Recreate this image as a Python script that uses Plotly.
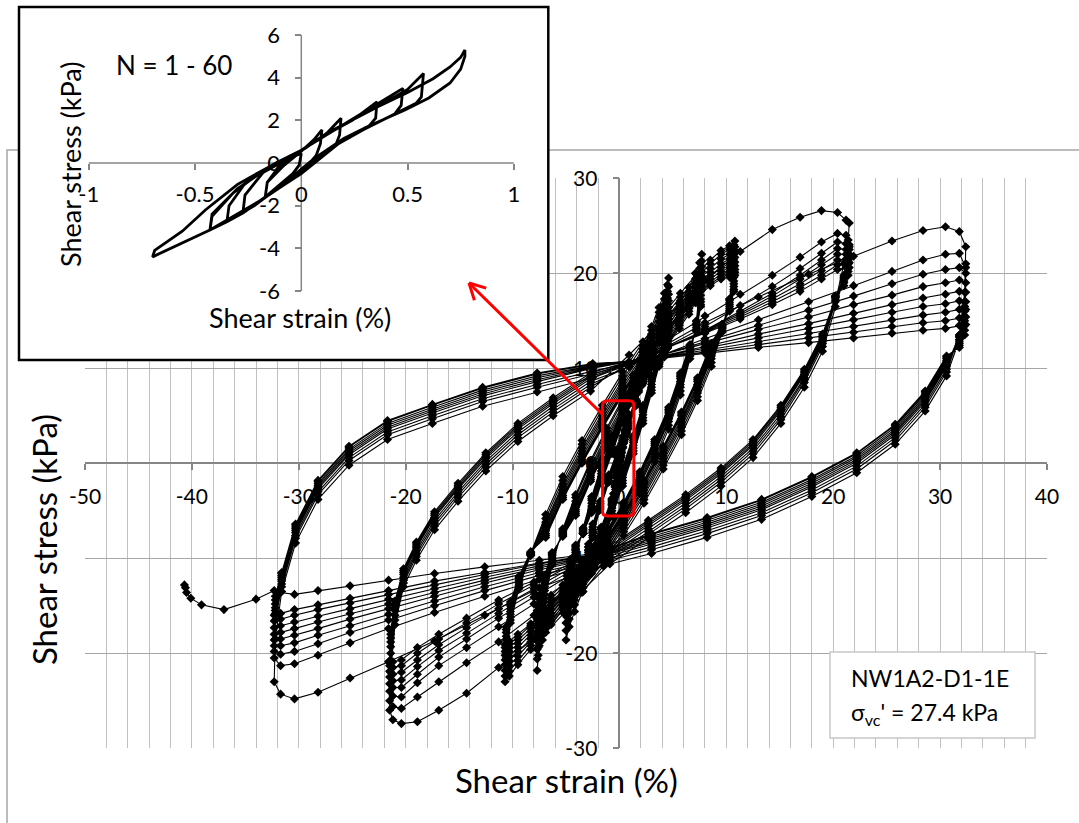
import plotly.graph_objects as go

W, H = 1079, 823

# ------------------------------------------------------------------
# Cyclic simple shear record, NW1A2-D1-1E.
# Each amplitude stage repeats the same strain path (%); the shear
# stress (kPa) of every cycle in the stage is listed separately.
# ------------------------------------------------------------------

# stage 0, about -3 % / +2.6 %
s0_strain = [2.6, 2.5, 2.2, 1.6, 0.8, -0.1, -1.0, -1.8, -2.5, -2.9, -3.0,
             -2.9, -2.5, -1.9, -1.1, -0.2, 0.7, 1.5, 2.1, 2.5]
s0_stress = [
    [12.5, 10.8, 8.8, 6.2, 3.6, 0.8, -2.0, -4.8, -7.6, -10.0, -12.0, -10.2, -7.8, -5.0, -2.0, 1.0, 4.0, 6.8, 9.3, 11.3],
    [12.0, 10.5, 8.7, 6.3, 3.8, 1.0, -1.8, -4.6, -7.3, -9.6, -11.5, -9.8, -7.6, -4.9, -2.0, 0.9, 3.8, 6.6, 9.0, 10.9],
    [11.6, 10.2, 8.6, 6.4, 4.0, 1.2, -1.6, -4.4, -7.0, -9.2, -11.0, -9.4, -7.4, -4.8, -2.0, 0.8, 3.6, 6.4, 8.7, 10.5],
    [11.2, 9.9, 8.5, 6.5, 4.2, 1.4, -1.4, -4.2, -6.7, -8.8, -10.6, -9.1, -7.2, -4.7, -2.0, 0.7, 3.4, 6.2, 8.4, 10.2],
    [10.9, 9.7, 8.4, 6.6, 4.4, 1.6, -1.2, -4.0, -6.4, -8.5, -10.2, -8.8, -7.0, -4.6, -2.0, 0.6, 3.2, 6.0, 8.2, 9.9],
]

# stage A, about -5 % / +4.6 %
a_strain = [4.6, 4.5, 4.2, 3.7, 3.0, 2.2, 1.3, 0.3, -0.7, -1.7, -2.6, -3.5, -4.2, -4.7, -5.0,
            -4.9, -4.6, -4.1, -3.4, -2.6, -1.7, -0.7, 0.3, 1.3, 2.2, 3.0, 3.7, 4.2, 4.5]
a_stress = [
    [19.5, 16.8, 13.2, 10.2, 7.4, 4.2, 1.0, -2.4, -5.6, -8.6, -11.2, -13.6, -15.6, -17.2, -18.6,
     -16.2, -13.2, -10.0, -6.8, -3.5, -0.3, 2.9, 6.2, 9.3, 12.0, 14.4, 16.4, 17.9, 18.8],
    [18.6, 16.1, 12.9, 10.4, 7.7, 4.5, 1.3, -2.1, -5.3, -8.3, -10.8, -13.0, -14.9, -16.4, -17.6,
     -15.4, -12.7, -9.8, -6.9, -3.7, -0.5, 2.6, 5.9, 9.0, 11.7, 14.0, 15.9, 17.3, 18.1],
    [17.8, 15.5, 12.6, 10.5, 8.0, 4.8, 1.6, -1.8, -5.0, -8.0, -10.5, -12.6, -14.4, -15.8, -16.8,
     -14.8, -12.3, -9.6, -7.0, -3.9, -0.8, 2.3, 5.6, 8.7, 11.4, 13.6, 15.4, 16.7, 17.4],
    [17.1, 15.0, 12.4, 10.6, 8.3, 5.1, 1.9, -1.5, -4.7, -7.7, -10.2, -12.2, -13.9, -15.1, -16.0,
     -14.2, -11.9, -9.4, -7.1, -4.2, -1.1, 2.0, 5.3, 8.4, 11.1, 13.2, 14.9, 16.1, 16.8],
    [16.4, 14.5, 12.2, 10.7, 8.6, 5.4, 2.2, -1.2, -4.4, -7.4, -9.9, -11.8, -13.4, -14.5, -15.3,
     -13.6, -11.5, -9.2, -7.2, -4.5, -1.4, 1.7, 5.0, 8.1, 10.8, 12.8, 14.4, 15.5, 16.1],
    [15.8, 14.1, 12.0, 10.8, 8.8, 5.6, 2.4, -1.0, -4.2, -7.2, -9.6, -11.5, -13.0, -14.0, -14.7,
     -13.1, -11.2, -9.1, -7.3, -4.7, -1.6, 1.5, 4.8, 7.9, 10.5, 12.5, 14.0, 15.0, 15.5],
    [15.2, 13.7, 11.8, 10.8, 9.0, 5.8, 2.6, -0.8, -4.0, -7.0, -9.4, -11.2, -12.6, -13.5, -14.1,
     -12.6, -10.8, -9.0, -7.4, -4.9, -1.8, 1.3, 4.6, 7.7, 10.3, 12.2, 13.6, 14.5, 14.9],
    [14.7, 13.3, 11.6, 10.8, 9.1, 5.9, 2.7, -0.7, -3.9, -6.9, -9.2, -10.9, -12.2, -13.0, -13.6,
     -12.2, -10.5, -8.8, -7.4, -5.0, -1.9, 1.2, 4.5, 7.6, 10.1, 11.9, 13.2, 14.1, 14.5],
    [14.3, 13.0, 11.4, 10.7, 9.2, 6.0, 2.8, -0.6, -3.8, -6.8, -9.0, -10.6, -11.8, -12.6, -13.2,
     -11.9, -10.3, -8.7, -7.4, -5.1, -2.0, 1.1, 4.4, 7.5, 9.9, 11.7, 12.9, 13.7, 14.1],
    [14.0, 12.8, 11.2, 10.6, 9.3, 6.1, 2.9, -0.5, -3.7, -6.7, -8.8, -10.4, -11.5, -12.3, -12.9,
     -11.6, -10.1, -8.6, -7.4, -5.2, -2.1, 1.0, 4.3, 7.4, 9.8, 11.5, 12.7, 13.4, 13.8],
]

# stage P, about +/-7.7 %
p_strain = [7.7, 7.6, 7.2, 6.6, 5.7, 4.6, 3.3, 1.9, 0.4, -1.1, -2.6, -4.0, -5.3, -6.4, -7.2, -7.6, -7.7,
            -7.5, -7.0, -6.3, -5.3, -4.1, -2.7, -1.2, 0.3, 1.8, 3.2, 4.5, 5.6, 6.5, 7.1, 7.5]
p_stress = [
    [22.0, 19.6, 15.0, 11.0, 7.2, 3.6, 0.2, -3.2, -6.4, -9.2, -11.6, -13.6, -15.4, -17.0, -18.6, -20.2, -21.8,
     -19.2, -14.6, -10.7, -6.9, -3.3, 0.3, 3.7, 6.8, 9.7, 12.4, 14.7, 16.8, 18.5, 20.0, 21.1],
    [21.3, 19.0, 14.9, 11.3, 7.6, 4.0, 0.6, -2.8, -6.0, -8.8, -11.2, -13.2, -15.0, -16.6, -18.0, -19.4, -20.6,
     -18.2, -14.2, -10.5, -7.0, -3.6, 0.0, 3.4, 6.5, 9.4, 12.0, 14.3, 16.3, 18.0, 19.4, 20.5],
    [20.7, 18.5, 14.7, 11.6, 8.0, 4.4, 1.0, -2.4, -5.6, -8.4, -10.8, -12.8, -14.6, -16.2, -17.4, -18.6, -19.6,
     -17.4, -13.8, -10.3, -7.1, -4.0, -0.4, 3.0, 6.1, 9.0, 11.6, 13.9, 15.9, 17.6, 18.9, 20.0],
    [20.2, 18.1, 14.6, 11.8, 8.3, 4.7, 1.3, -2.1, -5.3, -8.1, -10.5, -12.5, -14.3, -15.8, -16.9, -17.9, -18.7,
     -16.6, -13.4, -10.1, -7.2, -4.3, -0.7, 2.7, 5.8, 8.7, 11.3, 13.6, 15.6, 17.2, 18.5, 19.5],
    [19.7, 17.7, 14.5, 12.0, 8.6, 5.0, 1.6, -1.8, -5.0, -7.8, -10.2, -12.2, -14.0, -15.4, -16.4, -17.2, -17.8,
     -15.9, -13.0, -9.9, -7.3, -4.6, -1.0, 2.4, 5.5, 8.4, 11.0, 13.3, 15.3, 16.9, 18.1, 19.1],
    [19.3, 17.3, 14.3, 12.2, 8.9, 5.3, 1.9, -1.5, -4.7, -7.5, -9.9, -11.9, -13.7, -15.0, -15.9, -16.5, -17.0,
     -15.2, -12.6, -9.7, -7.4, -4.9, -1.3, 2.1, 5.2, 8.1, 10.7, 13.0, 15.0, 16.6, 17.8, 18.7],
    [18.9, 17.0, 14.1, 12.3, 9.1, 5.5, 2.1, -1.3, -4.5, -7.3, -9.7, -11.7, -13.4, -14.6, -15.4, -16.0, -16.4,
     -14.7, -12.3, -9.6, -7.5, -5.1, -1.5, 1.9, 5.0, 7.9, 10.5, 12.8, 14.7, 16.3, 17.5, 18.3],
    [18.6, 16.7, 14.0, 12.4, 9.3, 5.7, 2.3, -1.1, -4.3, -7.1, -9.5, -11.5, -13.1, -14.2, -15.0, -15.5, -15.9,
     -14.3, -12.0, -9.5, -7.6, -5.3, -1.7, 1.7, 4.8, 7.7, 10.3, 12.6, 14.5, 16.0, 17.2, 18.0],
    [18.3, 16.5, 13.9, 12.5, 9.5, 5.9, 2.5, -0.9, -4.1, -6.9, -9.3, -11.3, -12.8, -13.9, -14.6, -15.1, -15.5,
     -13.9, -11.8, -9.4, -7.7, -5.5, -1.9, 1.5, 4.6, 7.5, 10.1, 12.4, 14.2, 15.7, 16.9, 17.7],
]

# stage B, about +/-10.7 %
b_strain = [10.8, 10.7, 10.3, 9.6, 8.6, 7.3, 5.8, 4.1, 2.3, 0.4, -1.5, -3.4, -5.2, -6.9, -8.3, -9.5, -10.3, -10.7,
            -10.6, -10.2, -9.4, -8.3, -6.9, -5.3, -3.5, -1.6, 0.3, 2.2, 4.0, 5.7, 7.2, 8.5, 9.5, 10.3, 10.7]
b_stress = [
    [23.4, 20.8, 17.3, 13.8, 10.2, 6.6, 3.0, -0.6, -4.2, -7.6, -10.8, -13.5, -15.8, -17.8, -19.6, -21.2, -22.4, -23.0,
     -20.5, -16.8, -13.2, -9.5, -5.4, -1.4, 2.4, 6.1, 9.6, 12.8, 15.6, 17.9, 19.9, 21.4, 22.4, 22.9, 23.0],
    [22.8, 20.4, 17.3, 14.0, 10.6, 7.0, 3.4, -0.2, -3.8, -7.2, -10.4, -13.1, -15.4, -17.4, -19.2, -20.8, -21.9, -22.4,
     -20.0, -16.5, -13.1, -9.6, -5.8, -1.8, 2.0, 5.7, 9.2, 12.4, 15.2, 17.5, 19.5, 21.0, 22.0, 22.5, 22.5],
    [22.2, 20.0, 17.1, 14.2, 11.0, 7.4, 3.8, 0.2, -3.4, -6.8, -10.0, -12.7, -15.0, -17.0, -18.8, -20.3, -21.3, -21.8,
     -19.5, -16.2, -12.9, -9.7, -6.2, -2.2, 1.6, 5.3, 8.8, 12.0, 14.8, 17.1, 19.1, 20.5, 21.5, 22.0, 22.0],
    [21.7, 19.6, 16.9, 14.3, 11.3, 7.7, 4.1, 0.5, -3.1, -6.5, -9.7, -12.4, -14.7, -16.7, -18.5, -19.8, -20.8, -21.2,
     -19.0, -15.9, -12.7, -9.7, -6.5, -2.5, 1.3, 5.0, 8.5, 11.7, 14.5, 16.8, 18.7, 20.1, 21.0, 21.5, 21.5],
    [21.2, 19.2, 16.7, 14.4, 11.6, 8.0, 4.4, 0.8, -2.8, -6.2, -9.4, -12.1, -14.4, -16.4, -18.1, -19.4, -20.3, -20.7,
     -18.6, -15.6, -12.5, -9.6, -6.8, -2.8, 1.0, 4.7, 8.2, 11.4, 14.2, 16.5, 18.4, 19.7, 20.6, 21.0, 21.0],
    [20.8, 18.9, 16.5, 14.5, 11.9, 8.3, 4.7, 1.1, -2.5, -5.9, -9.1, -11.8, -14.1, -16.1, -17.7, -19.0, -19.8, -20.2,
     -18.2, -15.3, -12.3, -9.5, -7.1, -3.1, 0.7, 4.4, 7.9, 11.1, 13.9, 16.2, 18.1, 19.4, 20.2, 20.6, 20.6],
    [20.4, 18.6, 16.3, 14.6, 12.2, 8.6, 5.0, 1.4, -2.2, -5.6, -8.8, -11.5, -13.8, -15.8, -17.4, -18.6, -19.4, -19.8,
     -17.8, -15.0, -12.1, -9.4, -7.4, -3.4, 0.4, 4.1, 7.6, 10.8, 13.6, 15.9, 17.8, 19.1, 19.9, 20.2, 20.2],
    [20.1, 18.3, 16.1, 14.6, 12.4, 8.8, 5.2, 1.6, -2.0, -5.4, -8.6, -11.3, -13.6, -15.6, -17.1, -18.3, -19.0, -19.4,
     -17.5, -14.8, -12.0, -9.4, -7.6, -3.6, 0.2, 3.9, 7.4, 10.6, 13.4, 15.7, 17.6, 18.9, 19.6, 19.9, 19.9],
    [19.8, 18.1, 16.0, 14.6, 12.6, 9.0, 5.4, 1.8, -1.8, -5.2, -8.4, -11.1, -13.4, -15.4, -16.9, -18.0, -18.7, -19.1,
     -17.2, -14.6, -11.9, -9.3, -7.8, -3.8, 0.0, 3.7, 7.2, 10.4, 13.2, 15.5, 17.4, 18.7, 19.4, 19.6, 19.6],
]

# stage C, about +/-21.5 %
c_strain = [21.5, 21.4, 21.0, 20.2, 19.0, 17.3, 15.1, 12.5, 9.5, 6.2, 2.7, -0.9, -4.5, -8.0, -11.3, -14.3, -16.9,
            -18.9, -20.4, -21.2, -21.5, -21.4, -21.0, -20.2, -19.0, -17.3, -15.1, -12.5, -9.5, -6.2, -2.7, 0.9,
            4.5, 8.0, 11.3, 14.3, 16.9, 18.9, 20.4, 21.2]
c_stress = [
    [23.0, 21.5, 19.5, 16.5, 11.8, 8.0, 4.2, 0.6, -2.4, -5.2, -7.9, -10.6, -14.5, -18.4, -21.5, -24.2, -26.0,
     -27.2, -27.4, -27.0, -26.0, -22.0, -17.0, -13.0, -10.2, -7.0, -4.0, -0.8, 2.3, 5.0, 7.6, 11.4,
     15.5, 19.3, 22.3, 24.6, 25.9, 26.6, 26.4, 25.6],
    [25.3, 23.5, 21.0, 17.0, 12.3, 8.5, 4.6, 1.0, -2.0, -4.8, -7.5, -10.2, -13.0, -16.0, -18.8, -21.0, -23.0,
     -24.6, -25.8, -25.6, -25.0, -21.0, -16.5, -12.6, -9.8, -6.6, -3.6, -0.4, 2.7, 5.4, 8.0, 10.5,
     13.0, 15.5, 17.8, 19.8, 21.7, 23.3, 24.2, 24.0],
    [22.8, 21.5, 19.8, 17.2, 12.6, 8.8, 4.9, 1.3, -1.7, -4.5, -7.2, -9.9, -12.3, -14.8, -17.2, -19.4, -21.3,
     -23.1, -24.6, -24.5, -24.0, -20.0, -16.0, -12.3, -9.5, -6.3, -3.3, -0.1, 3.0, 5.7, 8.3, 10.2,
     12.3, 14.4, 16.6, 18.6, 20.5, 22.1, 23.3, 23.1],
    [22.5, 21.3, 19.6, 17.5, 12.8, 9.0, 5.2, 1.6, -1.4, -4.2, -6.9, -9.6, -11.7, -14.1, -16.3, -18.5, -20.4,
     -22.2, -23.6, -23.6, -23.2, -19.3, -15.5, -12.0, -9.2, -6.0, -3.0, 0.2, 3.3, 6.0, 8.6, 10.2,
     12.1, 14.0, 16.0, 17.9, 19.8, 21.4, 22.6, 22.5],
    [22.0, 21.0, 19.4, 17.6, 13.0, 9.3, 5.5, 1.9, -1.1, -3.9, -6.6, -9.3, -11.3, -13.6, -15.8, -17.9, -19.7,
     -21.4, -22.8, -22.9, -22.5, -18.8, -15.2, -11.7, -8.9, -5.7, -2.7, 0.5, 3.6, 6.3, 8.9, 10.4,
     12.2, 14.0, 15.8, 17.6, 19.4, 20.9, 22.0, 22.0],
    [21.6, 20.6, 19.2, 17.6, 13.2, 9.5, 5.7, 2.1, -0.9, -3.7, -6.4, -9.1, -11.0, -13.2, -15.3, -17.3, -19.1,
     -20.7, -22.0, -22.2, -21.9, -18.4, -15.0, -11.5, -8.7, -5.5, -2.5, 0.7, 3.8, 6.5, 9.1, 10.5,
     12.2, 13.9, 15.6, 17.3, 18.9, 20.3, 21.4, 21.5],
    [21.1, 20.2, 19.0, 17.5, 13.4, 9.7, 5.9, 2.3, -0.7, -3.5, -6.2, -8.9, -10.7, -12.8, -14.8, -16.8, -18.5,
     -20.0, -21.3, -21.5, -21.3, -18.0, -14.8, -11.3, -8.5, -5.3, -2.3, 0.9, 4.0, 6.7, 9.3, 10.6,
     12.2, 13.8, 15.4, 17.0, 18.5, 19.8, 20.9, 21.0],
    [20.6, 19.8, 18.7, 17.4, 13.6, 9.9, 6.1, 2.5, -0.5, -3.3, -6.0, -8.7, -10.5, -12.5, -14.4, -16.3, -18.0,
     -19.4, -20.7, -20.9, -20.8, -17.6, -14.5, -11.1, -8.3, -5.1, -2.1, 1.1, 4.2, 6.9, 9.5, 10.7,
     12.2, 13.7, 15.2, 16.7, 18.1, 19.4, 20.4, 20.6],
]

# stage D, about +/-32.4 %; the last entry is the final half cycle
d_strain = [32.4, 32.3, 31.8, 30.6, 28.6, 25.8, 22.2, 18.0, 13.3, 8.2, 3.0, -2.3, -7.5, -12.6, -17.3, -21.6,
            -25.2, -28.2, -30.4, -31.7, -32.3, -32.2, -31.6, -30.3, -28.2, -25.3, -21.7, -17.5, -12.8, -7.7,
            -2.5, 2.8, 8.0, 13.0, 17.7, 21.9, 25.5, 28.4, 30.5, 31.8]
d_stress = [
    [21.0, 17.0, 13.0, 9.2, 5.5, 2.0, -1.0, -3.5, -5.9, -7.8, -9.5, -11.0, -13.1, -16.0, -18.7, -20.9,
     -22.6, -24.1, -24.8, -24.3, -23.0, -18.5, -13.5, -8.4, -3.8, -0.2, 2.5, 4.2, 6.0, 7.5,
     9.0, 11.5, 14.8, 17.5, 19.9, 21.8, 23.4, 24.5, 24.9, 24.4],
    [22.8, 18.0, 13.5, 9.6, 5.9, 2.4, -0.6, -3.1, -5.5, -7.4, -9.1, -10.6, -12.2, -14.0, -15.7, -17.4,
     -18.9, -20.2, -21.1, -21.3, -20.5, -16.5, -13.0, -7.9, -3.3, 0.3, 3.0, 4.7, 6.5, 8.0,
     9.4, 10.9, 13.1, 15.1, 17.0, 18.7, 20.2, 21.4, 22.0, 22.1],
    [20.6, 17.0, 13.3, 9.9, 6.2, 2.7, -0.3, -2.8, -5.2, -7.1, -8.8, -10.4, -11.8, -13.4, -15.0, -16.5,
     -17.8, -19.0, -19.8, -20.1, -19.8, -16.0, -12.7, -7.6, -3.0, 0.6, 3.3, 5.0, 6.8, 8.3,
     9.7, 11.0, 12.8, 14.5, 16.1, 17.6, 18.9, 19.9, 20.4, 20.6],
    [20.0, 16.5, 13.5, 10.2, 6.5, 3.0, 0.0, -2.5, -4.9, -6.8, -8.5, -10.2, -11.5, -13.0, -14.5, -15.9,
     -17.1, -18.1, -18.9, -19.2, -19.2, -15.8, -12.4, -7.3, -2.7, 0.9, 3.6, 5.3, 7.1, 8.6,
     10.0, 11.1, 12.6, 14.1, 15.4, 16.7, 17.7, 18.6, 19.0, 19.3],
    [19.0, 16.0, 13.3, 10.4, 6.7, 3.2, 0.2, -2.3, -4.7, -6.6, -8.3, -10.0, -11.2, -12.6, -14.0, -15.3,
     -16.4, -17.4, -18.1, -18.5, -18.6, -15.5, -12.2, -7.1, -2.5, 1.1, 3.8, 5.5, 7.3, 8.8,
     10.1, 11.0, 12.3, 13.6, 14.7, 15.8, 16.7, 17.4, 17.8, 18.1],
    [18.0, 15.5, 13.0, 10.6, 6.9, 3.4, 0.4, -2.1, -4.5, -6.4, -8.1, -9.9, -11.0, -12.3, -13.6, -14.8,
     -15.8, -16.7, -17.4, -17.8, -18.0, -15.2, -12.0, -6.9, -2.3, 1.3, 4.0, 5.7, 7.5, 9.0,
     10.2, 11.0, 12.1, 13.2, 14.2, 15.1, 15.9, 16.5, 16.8, 17.1],
    [17.0, 15.0, 12.8, 10.8, 7.1, 3.6, 0.6, -1.9, -4.3, -6.2, -7.9, -9.8, -10.8, -12.0, -13.2, -14.3,
     -15.3, -16.1, -16.7, -17.1, -17.3, -14.8, -11.8, -6.7, -2.1, 1.5, 4.2, 5.9, 7.7, 9.2,
     10.3, 11.0, 11.9, 12.8, 13.7, 14.4, 15.1, 15.6, 15.9, 16.2],
    [16.2, 14.5, 12.6, 11.0, 7.3, 3.8, 0.8, -1.7, -4.1, -6.0, -7.7, -9.7, -10.6, -11.7, -12.8, -13.8,
     -14.7, -15.4, -16.0, -16.4, -16.6, -14.4, -11.6, -6.5, -1.9, 1.7, 4.4, 6.1, 7.9, 9.4,
     10.4, 11.0, 11.7, 12.5, 13.2, 13.8, 14.4, 14.8, 15.0, 15.3],
    [15.4, 14.0, 12.4, 11.2, 7.5, 4.0, 1.0, -1.5, -3.9, -5.8, -7.5, -9.6, -10.5, -11.5, -12.4, -13.4,
     -14.2, -14.9, -15.4, -15.8, -16.0, -14.0, -11.5, -6.4, -1.8, 1.8, 4.5, 6.2, 8.0, 9.5,
     10.5, 10.9, 11.6, 12.2, 12.7, 13.2, 13.7, 14.0, 14.2, 14.5],
    [14.6, 13.5, 12.2, 11.3, 7.6, 4.1, 1.1, -1.4, -3.8, -5.7, -7.4, -9.5, -10.2, -10.9, -11.6, -12.3,
     -12.9, -13.4, -13.8, -13.6, -13.4],
]

# final monotonic pull beyond the last reversal
tail_strain = [-34.0, -37.0, -39.1, -40.1, -40.5, -40.6, -40.7]
tail_stress = [-14.3, -15.4, -14.9, -14.2, -13.6, -13.1, -12.8]

# small-strain cycles, N = 1 - 60 (one loop per stage)
small_strain = [
    [-0.17, -0.16, -0.10, -0.04, 0.0, -0.01, -0.04, -0.10, -0.17],
    [-0.17, -0.16, -0.08, 0.0, 0.06, 0.097, 0.09, 0.07, 0.0, -0.08, -0.17],
    [-0.275, -0.265, -0.18, -0.08, 0.02, 0.12, 0.187, 0.18, 0.16, 0.08, -0.02, -0.14, -0.275],
    [-0.35, -0.34, -0.25, -0.12, 0.0, 0.12, 0.24, 0.356, 0.35, 0.32, 0.2, 0.06, -0.08, -0.22, -0.35],
    [-0.43, -0.42, -0.32, -0.18, 0.0, 0.15, 0.3, 0.478, 0.47, 0.44, 0.3, 0.12, -0.05, -0.22, -0.43],
    [-0.43, -0.42, -0.3, -0.15, 0.0, 0.15, 0.35, 0.5, 0.575, 0.565, 0.54, 0.4, 0.2, 0.0, -0.2, -0.43],
    [-0.70, -0.69, -0.64, -0.56, -0.45, -0.3, -0.15, 0.0, 0.12, 0.25, 0.36, 0.5, 0.62, 0.7, 0.75, 0.77,
     0.77, 0.75, 0.7, 0.6, 0.49, 0.3, 0.12, 0.0, -0.15, -0.28, -0.43, -0.56, -0.65, -0.70],
]
small_stress = [
    [-1.6, -0.9, -0.1, 0.3, 0.45, -0.1, -0.5, -1.0, -1.6],
    [-1.6, -0.9, -0.1, 0.55, 1.1, 1.55, 0.9, 0.35, -0.45, -1.0, -1.6],
    [-2.35, -1.5, -0.45, 0.1, 0.7, 1.4, 2.1, 1.3, 0.8, 0.2, -0.6, -1.4, -2.35],
    [-2.75, -2.0, -0.75, 0.0, 0.6, 1.35, 2.0, 2.87, 2.1, 1.75, 1.15, 0.2, -0.95, -2.0, -2.75],
    [-3.14, -2.5, -1.4, -0.35, 0.6, 1.5, 2.4, 3.5, 2.7, 2.3, 1.6, 0.6, -0.75, -1.95, -3.14],
    [-3.14, -2.4, -1.2, -0.2, 0.6, 1.55, 2.6, 3.45, 4.2, 3.1, 2.8, 2.1, 1.1, -0.5, -1.8, -3.14],
    [-4.4, -4.1, -3.75, -3.2, -2.19, -1.0, -0.17, 0.6, 1.39, 2.05, 2.64, 3.3, 3.95, 4.5, 4.95, 5.3,
     5.0, 4.4, 3.75, 3.05, 2.5, 1.65, 0.6, -0.48, -1.5, -2.35, -3.14, -3.76, -4.2, -4.4],
]

main_x_ticks = [-50, -40, -30, -20, -10, 0, 10, 20, 30, 40]
main_y_ticks = [-30, -20, -10, 0, 10, 20, 30]
inset_x_ticks = [-1, -0.5, 0, 0.5, 1]
inset_y_ticks = [-6, -4, -2, 0, 2, 4, 6]


def stage_xy(path, cycles):
    xs, ys = [], []
    for cyc in cycles:
        xs.extend(path[:len(cyc)])
        ys.extend(cyc)
    return xs, ys


def label(v):
    return "%g" % v


def fx(px):
    return px / W


def fy(py):
    return 1 - py / H


FONT = "Lato, 'Open Sans', sans-serif"

# pixel geometry of the two plotting areas
MX0, MX1, MY0, MY1 = 85.0, 1047.0, 178.3, 748.3          # main: x -50..40, y 30..-30
main_x0 = MX0 + (0 - (-50)) / 90 * (MX1 - MX0)
main_y0 = MY0 + (30 - 0) / 60 * (MY1 - MY0)

BOX = (19.0, 7.0, 548.3, 360.0)                          # inset frame
IX_M1, IX_P1 = 88.8, 513.8                               # inset x = -1, +1
IY_P6, IY_M6 = 35.0, 291.0                               # inset y = 6, -6
ix_scale = (IX_P1 - IX_M1) / 2
iy_scale = (IY_M6 - IY_P6) / 12
ix_zero = (IX_M1 + IX_P1) / 2
iy_zero = (IY_P6 + IY_M6) / 2
inset_xrange = [(BOX[0] - ix_zero) / ix_scale, (BOX[2] - ix_zero) / ix_scale]
inset_yrange = [(iy_zero - BOX[3]) / iy_scale, (iy_zero - BOX[1]) / iy_scale]

fig = go.Figure()

loop_style = dict(mode="lines+markers", line=dict(color="black", width=1.1),
                  marker=dict(symbol="diamond", size=7, color="black"),
                  hoverinfo="skip", showlegend=False)

sx, sy = stage_xy([v for s in small_strain for v in s], [[v for s in small_stress for v in s]])
fig.add_trace(go.Scatter(x=sx, y=sy, **loop_style))

for path, cycles in [(s0_strain, s0_stress), (a_strain, a_stress), (p_strain, p_stress),
                     (b_strain, b_stress), (c_strain, c_stress)]:
    xs, ys = stage_xy(path, cycles)
    fig.add_trace(go.Scatter(x=xs, y=ys, **loop_style))

dx, dy = stage_xy(d_strain, d_stress)
fig.add_trace(go.Scatter(x=dx + tail_strain, y=dy + tail_stress, **loop_style))

# inset: small-strain loops
fig.add_trace(go.Scatter(x=sx, y=sy, mode="lines", line=dict(color="black", width=2.8),
                         xaxis="x2", yaxis="y2", hoverinfo="skip", showlegend=False))

main_tickfont = dict(family=FONT, size=21, color="black")
inset_tickfont = dict(family=FONT, size=22, color="black")
fig.update_layout(
    width=W, height=H, margin=dict(l=0, r=0, t=0, b=0, pad=0, autoexpand=False),
    paper_bgcolor="white", plot_bgcolor="white", showlegend=False,
    font=dict(family=FONT, color="black"),
    xaxis=dict(domain=[fx(MX0), fx(MX1)], range=[-50, 40], anchor="free", position=fy(main_y0),
               tickmode="array", tickvals=main_x_ticks, ticktext=[label(v) for v in main_x_ticks],
               showgrid=True, gridcolor="#c0c0c0", gridwidth=1,
               minor=dict(tickmode="array", tickvals=list(range(-50, 41, 2)), showgrid=True,
                          gridcolor="#c0c0c0", gridwidth=1, ticks=""),
               showline=True, linecolor="#868686", linewidth=1.5,
               ticks="outside", ticklen=6, tickwidth=1.5, tickcolor="#868686",
               tickfont=main_tickfont, ticklabelstandoff=9, zeroline=False, automargin=False,
               layer="below traces", fixedrange=True),
    yaxis=dict(domain=[fy(MY1), fy(MY0)], range=[-30, 30], anchor="free", position=fx(main_x0),
               tickmode="array", tickvals=main_y_ticks, ticktext=[label(v) for v in main_y_ticks],
               showgrid=True, gridcolor="#a6a6a6", gridwidth=1.2,
               showline=True, linecolor="#868686", linewidth=1.5,
               ticks="outside", ticklen=6, tickwidth=1.5, tickcolor="#868686",
               tickfont=main_tickfont, ticklabelstandoff=11, zeroline=False, automargin=False,
               layer="below traces", fixedrange=True),
    xaxis2=dict(domain=[fx(BOX[0]), fx(BOX[2])], range=inset_xrange, anchor="free",
                position=fy(iy_zero), tickmode="array", tickvals=inset_x_ticks,
                ticktext=[label(v) for v in inset_x_ticks], showgrid=False, showline=False,
                zeroline=False, ticks="outside", ticklen=6, tickwidth=1.5, tickcolor="#868686",
                tickfont=inset_tickfont, ticklabelstandoff=6, automargin=False,
                layer="below traces", fixedrange=True),
    yaxis2=dict(domain=[fy(BOX[3]), fy(BOX[1])], range=inset_yrange, anchor="free",
                position=fx(ix_zero), tickmode="array", tickvals=inset_y_ticks,
                ticktext=[label(v) for v in inset_y_ticks], showgrid=False, showline=False,
                zeroline=False, ticks="outside", ticklen=6, tickwidth=1.5, tickcolor="#868686",
                tickfont=inset_tickfont, ticklabelstandoff=11, automargin=False,
                layer="below traces", fixedrange=True),
)

shapes = []
# chart-area frame
shapes.append(dict(type="rect", xref="paper", yref="paper", x0=fx(7), y0=fy(150), x1=1.05, y1=-0.05,
                   line=dict(color="#a6a6a6", width=1.5), fillcolor="rgba(0,0,0,0)", layer="below"))
# inset background and axis lines
shapes.append(dict(type="rect", xref="x2", yref="y2", x0=inset_xrange[0], x1=inset_xrange[1],
                   y0=inset_yrange[0], y1=inset_yrange[1], fillcolor="white",
                   line=dict(width=0), layer="below"))
shapes.append(dict(type="line", xref="x2", yref="y2", x0=-1, y0=0, x1=1, y1=0,
                   line=dict(color="#868686", width=1.5), layer="below"))
shapes.append(dict(type="line", xref="x2", yref="y2", x0=0, y0=-6, x1=0, y1=6,
                   line=dict(color="#868686", width=1.5), layer="below"))
# inset frame
shapes.append(dict(type="rect", xref="paper", yref="paper", x0=fx(BOX[0]), y0=fy(BOX[3]),
                   x1=fx(BOX[2]), y1=fy(BOX[1]), line=dict(color="black", width=2.5),
                   fillcolor="rgba(0,0,0,0)", layer="above"))
# specimen label box
shapes.append(dict(type="rect", xref="paper", yref="paper", x0=fx(830), y0=fy(738), x1=fx(1035),
                   y1=fy(652), line=dict(color="#c8c8c8", width=1.5), fillcolor="white", layer="above"))
# red highlight around the small-strain loops (rounded corners)
rx0, rx1, ry0, ry1, cr_x, cr_y = -1.58, 1.35, -5.55, 6.59, 0.45, 0.5
red_path = (f"M {rx0 + cr_x},{ry1} L {rx1 - cr_x},{ry1} Q {rx1},{ry1} {rx1},{ry1 - cr_y} "
            f"L {rx1},{ry0 + cr_y} Q {rx1},{ry0} {rx1 - cr_x},{ry0} L {rx0 + cr_x},{ry0} "
            f"Q {rx0},{ry0} {rx0},{ry0 + cr_y} L {rx0},{ry1 - cr_y} Q {rx0},{ry1} {rx0 + cr_x},{ry1} Z")
shapes.append(dict(type="path", xref="x", yref="y", path=red_path,
                   line=dict(color="#ff0000", width=3), layer="above"))
# arrow pointing to the inset
for (xa, ya, xb, yb) in [(602, 414, 469, 283), (469, 283, 474.4, 300.2), (469, 283, 486.2, 288.1)]:
    shapes.append(dict(type="line", xref="paper", yref="paper", x0=fx(xa), y0=fy(ya),
                       x1=fx(xb), y1=fy(yb), line=dict(color="#ff0000", width=3), layer="above"))
fig.update_layout(shapes=shapes)


def note(text, x, y, size, angle=0, xanchor="center"):
    fig.add_annotation(text=text, x=fx(x), y=fy(y), xref="paper", yref="paper", showarrow=False,
                       textangle=angle, xanchor=xanchor, yanchor="middle",
                       font=dict(family=FONT, size=size, color="black"))


note("Shear strain (%)", 566, 780, 33)
note("Shear stress (kPa)", 44, 540, 33, angle=-90)
note("Shear strain (%)", 300, 318, 27)
note("Shear stress (kPa)", 70, 164, 27, angle=-90)
note("N = 1 - 60", 174, 65, 26)
note("NW1A2-D1-1E", 849, 678, 23, xanchor="left")
note("\u03c3<sub>vc</sub>' = 27.4 kPa", 849, 713, 23, xanchor="left")

fig.write_html("out.html")
